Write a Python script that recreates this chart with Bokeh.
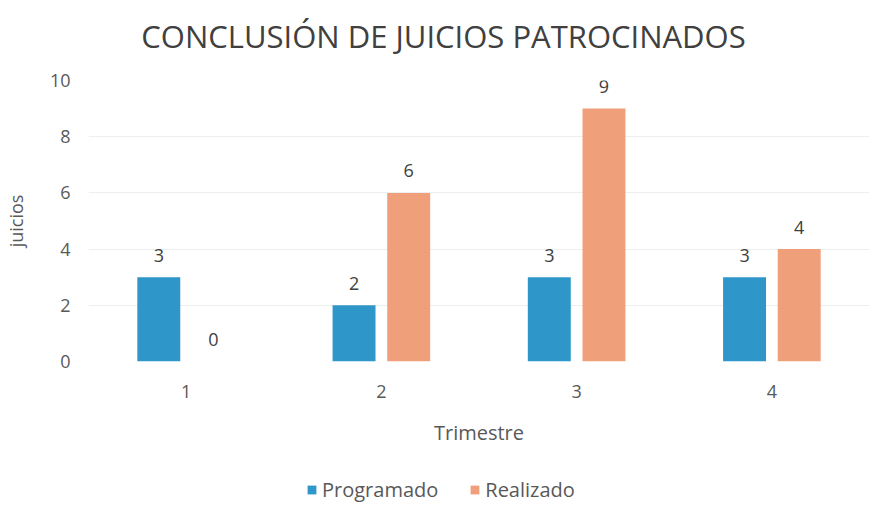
from bokeh.plotting import figure
from bokeh.models import ColumnDataSource, Range1d, FactorRange, Legend, LegendItem, Label
from bokeh.layouts import column
from bokeh.transform import dodge
from bokeh.core.properties import value
from bokeh.embed import file_html
from bokeh.resources import INLINE

trimestres = ["1", "2", "3", "4"]
programado = [3, 2, 3, 3]
realizado = [0, 6, 9, 4]
yticks = [0, 2, 4, 6, 8, 10]
series_names = ["Programado", "Realizado"]

title_text = "CONCLUSIÓN DE JUICIOS PATROCINADOS"
FONT = "Open Sans"
BLUE = "#2F96C9"
ORANGE = "#EFA07B"
TXT = "#595959"

src = ColumnDataSource(dict(
    x=trimestres,
    prog=programado,
    real=realizado,
    prog_lbl=[str(v) for v in programado],
    real_lbl=[str(v) for v in realizado],
))


def blank(h, **kw):
    f = figure(width=873, height=h, output_backend="svg", toolbar_location=None,
               min_border=0, x_axis_location=None, y_axis_location=None, **kw)
    f.grid.visible = False
    f.outline_line_color = None
    return f


# title strip
hd = blank(60, x_range=Range1d(0, 1), y_range=Range1d(0, 1))
hd.add_layout(Label(x=355, y=25, x_units="screen", y_units="screen", text=title_text,
                    text_align="center", text_baseline="middle", text_font=FONT,
                    text_font_size="31px", text_color="#404040"))

# main chart
p = figure(width=873, height=388, x_range=FactorRange(*trimestres, range_padding=0),
           y_range=Range1d(0, 10), output_backend="svg", toolbar_location=None,
           min_border_top=20, min_border_bottom=87, min_border_left=82, min_border_right=4)
p.outline_line_color = None
p.background_fill_color = "white"

w = 0.22
off = 0.14
p.vbar(x=dodge("x", -off, range=p.x_range), top="prog", width=w, source=src,
       fill_color=BLUE, line_color=None)
p.vbar(x=dodge("x", off, range=p.x_range), top="real", width=w, source=src,
       fill_color=ORANGE, line_color=None)

p.text(x=dodge("x", -off, range=p.x_range), y="prog", text="prog_lbl", source=src,
       text_font=value(FONT), text_font_size="18px", text_color="#404040",
       text_align="center", text_baseline="middle", y_offset=-22)
p.text(x=dodge("x", off, range=p.x_range), y="real", text="real_lbl", source=src,
       text_font=value(FONT), text_font_size="18px", text_color="#404040",
       text_align="center", text_baseline="middle", y_offset=-22)

for ax in (p.xaxis[0], p.yaxis[0]):
    ax.axis_line_color = None
    ax.major_tick_line_color = None
    ax.minor_tick_line_color = None
    ax.major_label_text_font = FONT
    ax.major_label_text_font_size = "18px"
    ax.major_label_text_color = TXT
    ax.axis_label_text_font = FONT
    ax.axis_label_text_font_style = "normal"
    ax.axis_label_text_color = TXT

p.yaxis.ticker = yticks
p.yaxis.major_label_standoff = 12
p.yaxis.axis_label = "juicios"
p.yaxis.axis_label_text_font_size = "18px"
p.yaxis.axis_label_standoff = 19
p.xaxis.major_label_standoff = 17
p.xaxis.axis_label = "Trimestre"
p.xaxis.axis_label_text_font_size = "20px"
p.xaxis.axis_label_standoff = 18

p.xgrid.grid_line_color = None
p.ygrid.grid_line_color = "#EEEEEE"

# legend strip below the chart (its bars use the same data but lie outside its view)
lg = blank(58, x_range=FactorRange(*trimestres), y_range=Range1d(100, 101))
d1 = lg.vbar(x="x", top="prog", width=w, source=src, fill_color=BLUE, line_color=None)
d2 = lg.vbar(x="x", top="real", width=w, source=src, fill_color=ORANGE, line_color=None)

legend = Legend(items=[LegendItem(label=series_names[0], renderers=[d1]),
                       LegendItem(label=series_names[1], renderers=[d2])],
                orientation="horizontal", location=(218, 3),
                label_text_font=FONT, label_text_font_size="20px", label_text_color=TXT,
                glyph_width=11, glyph_height=11, label_standoff=5, spacing=31,
                label_height=20, border_line_color=None, background_fill_alpha=0,
                padding=0, margin=0)
lg.add_layout(legend, "center")

layout = column(hd, p, lg, spacing=0)
open("out.html", "w").write(file_html(layout, INLINE))
